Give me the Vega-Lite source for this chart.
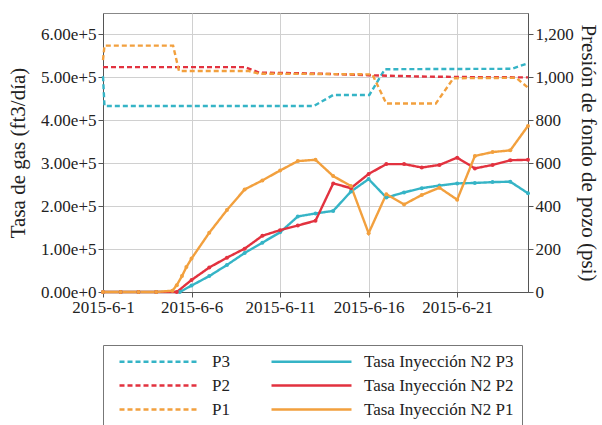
{
  "$schema": "https://vega.github.io/schema/vega-lite/v6.json",
  "width": 425,
  "height": 279,
  "padding": {"left": 7, "top": 13, "right": 5, "bottom": 5},
  "background": "white",
  "config": {
    "font": "Liberation Serif",
    "view": {"stroke": "#888", "strokeWidth": 1},
    "axis": {
      "labelFont": "Liberation Serif", "labelFontSize": 17, "labelColor": "#222",
      "titleFont": "Liberation Serif", "titleFontSize": 21, "titleFontWeight": "normal", "titleColor": "#222",
      "domainColor": "#555", "tickColor": "#555", "gridColor": "#d0d0d0", "tickSize": 5, "labelPadding": 2
    },
    "legend": {
      "labelFont": "Liberation Serif", "labelFontSize": 17, "labelColor": "#222"
    }
  },
  "datasets": {
    "pres": [
      {"date": "2015-06-01T00:00:00Z", "series": "P3", "psi": 1005},
      {"date": "2015-06-01T02:00:00Z", "series": "P3", "psi": 867},
      {"date": "2015-06-04T00:00:00Z", "series": "P3", "psi": 867},
      {"date": "2015-06-08T00:00:00Z", "series": "P3", "psi": 867},
      {"date": "2015-06-12T22:00:00Z", "series": "P3", "psi": 867},
      {"date": "2015-06-14T00:00:00Z", "series": "P3", "psi": 918},
      {"date": "2015-06-16T01:00:00Z", "series": "P3", "psi": 918},
      {"date": "2015-06-16T22:00:00Z", "series": "P3", "psi": 1038},
      {"date": "2015-06-20T00:00:00Z", "series": "P3", "psi": 1039},
      {"date": "2015-06-24T02:00:00Z", "series": "P3", "psi": 1040},
      {"date": "2015-06-25T00:00:00Z", "series": "P3", "psi": 1066},
      {"date": "2015-06-01T00:00:00Z", "series": "P2", "psi": 1048},
      {"date": "2015-06-05T00:00:00Z", "series": "P2", "psi": 1048},
      {"date": "2015-06-09T00:00:00Z", "series": "P2", "psi": 1048},
      {"date": "2015-06-09T20:00:00Z", "series": "P2", "psi": 1022},
      {"date": "2015-06-13T00:00:00Z", "series": "P2", "psi": 1018},
      {"date": "2015-06-16T00:00:00Z", "series": "P2", "psi": 1010},
      {"date": "2015-06-19T00:00:00Z", "series": "P2", "psi": 1004},
      {"date": "2015-06-22T00:00:00Z", "series": "P2", "psi": 1001},
      {"date": "2015-06-25T00:00:00Z", "series": "P2", "psi": 1000},
      {"date": "2015-06-01T00:00:00Z", "series": "P1", "psi": 1080},
      {"date": "2015-06-01T02:00:00Z", "series": "P1", "psi": 1148},
      {"date": "2015-06-04T23:00:00Z", "series": "P1", "psi": 1148},
      {"date": "2015-06-05T07:00:00Z", "series": "P1", "psi": 1030},
      {"date": "2015-06-09T05:00:00Z", "series": "P1", "psi": 1030},
      {"date": "2015-06-09T20:00:00Z", "series": "P1", "psi": 1017},
      {"date": "2015-06-13T00:00:00Z", "series": "P1", "psi": 1016},
      {"date": "2015-06-16T05:00:00Z", "series": "P1", "psi": 1014},
      {"date": "2015-06-17T00:00:00Z", "series": "P1", "psi": 878},
      {"date": "2015-06-19T19:00:00Z", "series": "P1", "psi": 878},
      {"date": "2015-06-20T19:00:00Z", "series": "P1", "psi": 996},
      {"date": "2015-06-24T08:00:00Z", "series": "P1", "psi": 998},
      {"date": "2015-06-25T00:00:00Z", "series": "P1", "psi": 952}
    ],
    "rate": [
      {"date": "2015-06-01T00:00:00Z", "series": "Tasa Inyección N2 P3", "gas": 0},
      {"date": "2015-06-02T00:00:00Z", "series": "Tasa Inyección N2 P3", "gas": 0},
      {"date": "2015-06-03T00:00:00Z", "series": "Tasa Inyección N2 P3", "gas": 0},
      {"date": "2015-06-04T00:00:00Z", "series": "Tasa Inyección N2 P3", "gas": 0},
      {"date": "2015-06-05T08:00:00Z", "series": "Tasa Inyección N2 P3", "gas": 0},
      {"date": "2015-06-06T00:00:00Z", "series": "Tasa Inyección N2 P3", "gas": 15000},
      {"date": "2015-06-07T00:00:00Z", "series": "Tasa Inyección N2 P3", "gas": 37000},
      {"date": "2015-06-08T00:00:00Z", "series": "Tasa Inyección N2 P3", "gas": 63000},
      {"date": "2015-06-09T00:00:00Z", "series": "Tasa Inyección N2 P3", "gas": 91000},
      {"date": "2015-06-10T00:00:00Z", "series": "Tasa Inyección N2 P3", "gas": 115000},
      {"date": "2015-06-11T00:00:00Z", "series": "Tasa Inyección N2 P3", "gas": 139000},
      {"date": "2015-06-12T00:00:00Z", "series": "Tasa Inyección N2 P3", "gas": 176000},
      {"date": "2015-06-13T00:00:00Z", "series": "Tasa Inyección N2 P3", "gas": 183000},
      {"date": "2015-06-14T00:00:00Z", "series": "Tasa Inyección N2 P3", "gas": 189000},
      {"date": "2015-06-15T00:00:00Z", "series": "Tasa Inyección N2 P3", "gas": 234000},
      {"date": "2015-06-16T00:00:00Z", "series": "Tasa Inyección N2 P3", "gas": 263000},
      {"date": "2015-06-17T00:00:00Z", "series": "Tasa Inyección N2 P3", "gas": 220000},
      {"date": "2015-06-18T00:00:00Z", "series": "Tasa Inyección N2 P3", "gas": 232000},
      {"date": "2015-06-19T00:00:00Z", "series": "Tasa Inyección N2 P3", "gas": 242000},
      {"date": "2015-06-20T00:00:00Z", "series": "Tasa Inyección N2 P3", "gas": 248000},
      {"date": "2015-06-21T00:00:00Z", "series": "Tasa Inyección N2 P3", "gas": 253000},
      {"date": "2015-06-22T00:00:00Z", "series": "Tasa Inyección N2 P3", "gas": 254000},
      {"date": "2015-06-23T00:00:00Z", "series": "Tasa Inyección N2 P3", "gas": 256000},
      {"date": "2015-06-24T00:00:00Z", "series": "Tasa Inyección N2 P3", "gas": 257000},
      {"date": "2015-06-25T00:00:00Z", "series": "Tasa Inyección N2 P3", "gas": 230000},
      {"date": "2015-06-01T00:00:00Z", "series": "Tasa Inyección N2 P2", "gas": 0},
      {"date": "2015-06-02T00:00:00Z", "series": "Tasa Inyección N2 P2", "gas": 0},
      {"date": "2015-06-03T00:00:00Z", "series": "Tasa Inyección N2 P2", "gas": 0},
      {"date": "2015-06-04T00:00:00Z", "series": "Tasa Inyección N2 P2", "gas": 0},
      {"date": "2015-06-05T04:00:00Z", "series": "Tasa Inyección N2 P2", "gas": 0},
      {"date": "2015-06-06T00:00:00Z", "series": "Tasa Inyección N2 P2", "gas": 28000},
      {"date": "2015-06-07T00:00:00Z", "series": "Tasa Inyección N2 P2", "gas": 57000},
      {"date": "2015-06-08T00:00:00Z", "series": "Tasa Inyección N2 P2", "gas": 80000},
      {"date": "2015-06-09T00:00:00Z", "series": "Tasa Inyección N2 P2", "gas": 101000},
      {"date": "2015-06-10T00:00:00Z", "series": "Tasa Inyección N2 P2", "gas": 131000},
      {"date": "2015-06-11T00:00:00Z", "series": "Tasa Inyección N2 P2", "gas": 144000},
      {"date": "2015-06-12T00:00:00Z", "series": "Tasa Inyección N2 P2", "gas": 155000},
      {"date": "2015-06-13T00:00:00Z", "series": "Tasa Inyección N2 P2", "gas": 166000},
      {"date": "2015-06-14T00:00:00Z", "series": "Tasa Inyección N2 P2", "gas": 253000},
      {"date": "2015-06-15T00:00:00Z", "series": "Tasa Inyección N2 P2", "gas": 242000},
      {"date": "2015-06-16T00:00:00Z", "series": "Tasa Inyección N2 P2", "gas": 275000},
      {"date": "2015-06-17T00:00:00Z", "series": "Tasa Inyección N2 P2", "gas": 298000},
      {"date": "2015-06-18T00:00:00Z", "series": "Tasa Inyección N2 P2", "gas": 298000},
      {"date": "2015-06-19T00:00:00Z", "series": "Tasa Inyección N2 P2", "gas": 290000},
      {"date": "2015-06-20T00:00:00Z", "series": "Tasa Inyección N2 P2", "gas": 296000},
      {"date": "2015-06-21T00:00:00Z", "series": "Tasa Inyección N2 P2", "gas": 313000},
      {"date": "2015-06-22T00:00:00Z", "series": "Tasa Inyección N2 P2", "gas": 288000},
      {"date": "2015-06-23T00:00:00Z", "series": "Tasa Inyección N2 P2", "gas": 296000},
      {"date": "2015-06-24T00:00:00Z", "series": "Tasa Inyección N2 P2", "gas": 307000},
      {"date": "2015-06-25T00:00:00Z", "series": "Tasa Inyección N2 P2", "gas": 308000},
      {"date": "2015-06-01T00:00:00Z", "series": "Tasa Inyección N2 P1", "gas": 0},
      {"date": "2015-06-02T00:00:00Z", "series": "Tasa Inyección N2 P1", "gas": 0},
      {"date": "2015-06-03T00:00:00Z", "series": "Tasa Inyección N2 P1", "gas": 0},
      {"date": "2015-06-04T00:00:00Z", "series": "Tasa Inyección N2 P1", "gas": 0},
      {"date": "2015-06-04T22:00:00Z", "series": "Tasa Inyección N2 P1", "gas": 3000},
      {"date": "2015-06-05T04:00:00Z", "series": "Tasa Inyección N2 P1", "gas": 16000},
      {"date": "2015-06-05T11:00:00Z", "series": "Tasa Inyección N2 P1", "gas": 37000},
      {"date": "2015-06-05T17:00:00Z", "series": "Tasa Inyección N2 P1", "gas": 58000},
      {"date": "2015-06-06T00:00:00Z", "series": "Tasa Inyección N2 P1", "gas": 78000},
      {"date": "2015-06-07T00:00:00Z", "series": "Tasa Inyección N2 P1", "gas": 138000},
      {"date": "2015-06-08T00:00:00Z", "series": "Tasa Inyección N2 P1", "gas": 191000},
      {"date": "2015-06-09T00:00:00Z", "series": "Tasa Inyección N2 P1", "gas": 239000},
      {"date": "2015-06-10T00:00:00Z", "series": "Tasa Inyección N2 P1", "gas": 260000},
      {"date": "2015-06-11T00:00:00Z", "series": "Tasa Inyección N2 P1", "gas": 283000},
      {"date": "2015-06-12T00:00:00Z", "series": "Tasa Inyección N2 P1", "gas": 305000},
      {"date": "2015-06-13T00:00:00Z", "series": "Tasa Inyección N2 P1", "gas": 308000},
      {"date": "2015-06-14T00:00:00Z", "series": "Tasa Inyección N2 P1", "gas": 270000},
      {"date": "2015-06-15T00:00:00Z", "series": "Tasa Inyección N2 P1", "gas": 247000},
      {"date": "2015-06-16T00:00:00Z", "series": "Tasa Inyección N2 P1", "gas": 137000},
      {"date": "2015-06-17T00:00:00Z", "series": "Tasa Inyección N2 P1", "gas": 228000},
      {"date": "2015-06-18T00:00:00Z", "series": "Tasa Inyección N2 P1", "gas": 204000},
      {"date": "2015-06-19T00:00:00Z", "series": "Tasa Inyección N2 P1", "gas": 226000},
      {"date": "2015-06-20T00:00:00Z", "series": "Tasa Inyección N2 P1", "gas": 243000},
      {"date": "2015-06-21T00:00:00Z", "series": "Tasa Inyección N2 P1", "gas": 215000},
      {"date": "2015-06-22T00:00:00Z", "series": "Tasa Inyección N2 P1", "gas": 317000},
      {"date": "2015-06-23T00:00:00Z", "series": "Tasa Inyección N2 P1", "gas": 326000},
      {"date": "2015-06-24T00:00:00Z", "series": "Tasa Inyección N2 P1", "gas": 330000},
      {"date": "2015-06-25T00:00:00Z", "series": "Tasa Inyección N2 P1", "gas": 387000}
    ]
  },
  "layer": [
    {
      "data": {"name": "pres"},
      "mark": {"type": "line", "strokeWidth": 2.4},
      "encoding": {
        "x": {
          "field": "date", "type": "temporal",
          "scale": {"type": "utc", "domain": [{"year": 2015, "month": 6, "date": 1, "utc": true}, {"year": 2015, "month": 6, "date": 25, "utc": true}]},
          "axis": {
            "title": null, "grid": true, "labelFlush": false, "labelOverlap": false,
            "values": [
              {"year": 2015, "month": 6, "date": 1, "utc": true},
              {"year": 2015, "month": 6, "date": 6, "utc": true},
              {"year": 2015, "month": 6, "date": 11, "utc": true},
              {"year": 2015, "month": 6, "date": 16, "utc": true},
              {"year": 2015, "month": 6, "date": 21, "utc": true}
            ],
            "labelExpr": "utcFormat(datum.value, '%Y-%-m-%-d')"
          }
        },
        "y": {
          "field": "psi", "type": "quantitative",
          "scale": {"domain": [0, 1300], "nice": false},
          "axis": {"orient": "right", "title": "Presión de fondo de pozo (psi)", "values": [0, 200, 400, 600, 800, 1000, 1200], "format": ",d", "grid": false, "titlePadding": 4}
        },
        "color": {
          "field": "series", "type": "nominal",
          "scale": {
            "domain": ["P3", "P2", "P1", "Tasa Inyección N2 P3", "Tasa Inyección N2 P2", "Tasa Inyección N2 P1"],
            "range": ["#35b4c6", "#e2323f", "#f2a03e", "#35b4c6", "#e2323f", "#f2a03e"]
          },
          "legend": {
            "title": null, "orient": "none", "legendX": 0, "legendY": 332, "columns": 2,
            "strokeColor": "#777", "padding": 8, "symbolType": "M0,0H16", "symbolSize": 100,
            "symbolStrokeWidth": 2.5, "rowPadding": 6, "columnPadding": 33, "labelOffset": 84
          }
        },
        "strokeDash": {
          "field": "series", "type": "nominal",
          "scale": {
            "domain": ["P3", "P2", "P1", "Tasa Inyección N2 P3", "Tasa Inyección N2 P2", "Tasa Inyección N2 P1"],
            "range": [[5, 3], [5, 3], [5, 3], [1, 0], [1, 0], [1, 0]]
          },
          "legend": {
            "title": null, "orient": "none", "legendX": 0, "legendY": 332, "columns": 2,
            "strokeColor": "#777", "padding": 8, "symbolType": "M0,0H16", "symbolSize": 100,
            "symbolStrokeWidth": 2.5, "rowPadding": 6, "columnPadding": 33, "labelOffset": 84
          }
        }
      }
    },
    {
      "data": {"name": "rate"},
      "mark": {"type": "line", "strokeWidth": 2.4, "point": {"filled": true, "size": 16}},
      "encoding": {
        "x": {"field": "date", "type": "temporal"},
        "y": {
          "field": "gas", "type": "quantitative",
          "scale": {"domain": [0, 650000], "nice": false},
          "axis": {"orient": "left", "title": "Tasa de gas (ft3/día)", "values": [0, 100000, 200000, 300000, 400000, 500000, 600000], "format": ".2e", "grid": true, "titlePadding": 12}
        },
        "color": {
          "field": "series", "type": "nominal",
          "scale": {
            "domain": ["P3", "P2", "P1", "Tasa Inyección N2 P3", "Tasa Inyección N2 P2", "Tasa Inyección N2 P1"],
            "range": ["#35b4c6", "#e2323f", "#f2a03e", "#35b4c6", "#e2323f", "#f2a03e"]
          }
        },
        "strokeDash": {
          "field": "series", "type": "nominal",
          "scale": {
            "domain": ["P3", "P2", "P1", "Tasa Inyección N2 P3", "Tasa Inyección N2 P2", "Tasa Inyección N2 P1"],
            "range": [[5, 3], [5, 3], [5, 3], [1, 0], [1, 0], [1, 0]]
          }
        }
      }
    }
  ],
  "resolve": {"scale": {"y": "independent"}}
}
